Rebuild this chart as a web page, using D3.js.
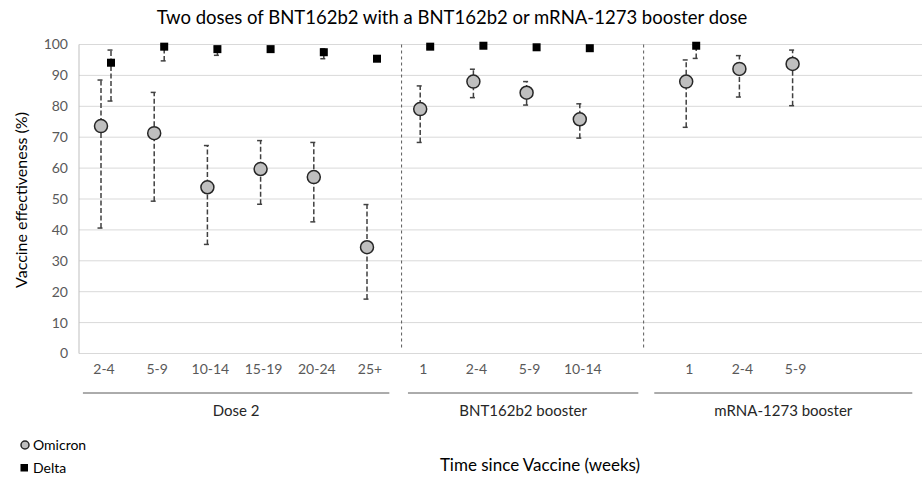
<!DOCTYPE html>
<html><head><meta charset="utf-8">
<script src="https://cdn.jsdelivr.net/npm/d3@7"></script>
<style>body{margin:0;background:#fff}svg{display:block}text{font-family:Lato,"Open Sans",sans-serif}</style>
</head><body><svg id="c" width="924" height="492"></svg>
<script>
// ---- data ----
const slots = [0,1,2,3,4,5,6,7,8,9,11,12,13];
const tickLabels = ["2-4","5-9","10-14","15-19","20-24","25+","1","2-4","5-9","10-14","1","2-4","5-9"];
const omicron    = [73.6,71.3,53.8,59.7,57.1,34.4,79.1,88.0,84.4,75.8,88.0,92.1,93.7];
const omicronLo  = [40.6,49.3,35.3,48.3,42.6,17.6,68.3,82.8,80.4,69.7,73.2,83.0,80.2];
const omicronHi  = [88.5,84.5,67.3,68.9,68.3,48.2,86.6,92.0,88.0,80.8,95.0,96.4,98.2];
const delta      = [94.1,99.3,98.5,98.5,97.5,95.4,99.3,99.6,99.1,98.8,99.6,null,null];
const deltaLo    = [81.7,94.7,96.5,97.8,95.4,94.9,98.8,99.2,98.6,98.2,95.5,null,null];
const deltaHi    = [98.2,99.7,99.2,99.0,98.6,95.9,99.6,99.8,99.4,99.2,99.8,null,null];
const groups = [{name:"Dose 2",from:-0.34,to:5.42},{name:"BNT162b2 booster",from:5.77,to:10.1},{name:"mRNA-1273 booster",from:10.4,to:15.25}];
const dividers = [5.65, 10.2];
const yTicks = [0,10,20,30,40,50,60,70,80,90,100];

const svg = d3.select("#c");
const x = d3.scaleLinear().domain([0,13]).range([101,792.6]);
const y = d3.scaleLinear().domain([0,100]).range([353.5,44.5]);
const xL = 79, xR = 922;

// gridlines
svg.append("g").selectAll("line").data(yTicks).join("line")
  .attr("x1",xL).attr("x2",xR).attr("y1",d=>y(d)).attr("y2",d=>y(d))
  .attr("stroke","#d9d9d9").attr("stroke-width",1);
// y axis line
svg.append("line").attr("x1",xL).attr("x2",xL).attr("y1",y(100)).attr("y2",y(0)).attr("stroke","#bfbfbf");
// y axis labels
const yAxis = d3.axisLeft(y).tickValues(yTicks).tickSize(0).tickPadding(11);
const ya = svg.append("g").attr("transform",`translate(${xL},0)`).call(yAxis);
ya.select(".domain").remove();
ya.selectAll("text").attr("font-size",14).attr("fill","#595959").style("font-family",'Lato,sans-serif');

// dividers
svg.append("g").selectAll("line").data(dividers).join("line")
  .attr("x1",d=>x(d)).attr("x2",d=>x(d)).attr("y1",y(100)).attr("y2",y(0)-6)
  .attr("stroke","#595959").attr("stroke-width",1).attr("stroke-dasharray","3,3");

// error bars
function errbars(vals,lo,hi,off){
  const g = svg.append("g").attr("stroke","#404040").attr("stroke-width",1.5).attr("stroke-dasharray","5,2.5").attr("fill","none");
  vals.forEach((v,i)=>{
    if(v==null) return;
    const cx = x(slots[i])+off;
    g.append("line").attr("x1",cx).attr("x2",cx).attr("y1",y(lo[i])).attr("y2",y(hi[i]));
    [lo[i],hi[i]].forEach(e=>{
      g.append("line").attr("x1",cx-3.5).attr("x2",cx+3.5).attr("y1",y(e)).attr("y2",y(e)).attr("stroke-dasharray",null);
    });
  });
}
errbars(omicron,omicronLo,omicronHi,0);
errbars(delta,deltaLo,deltaHi,10);

// omicron circles
svg.append("g").selectAll("circle").data(omicron.map((v,i)=>({v,i}))).join("circle")
  .attr("cx",d=>x(slots[d.i])).attr("cy",d=>y(d.v)).attr("r",6.5)
  .attr("fill","#bfbfbf").attr("stroke","#262626").attr("stroke-width",1.5);
// delta squares
svg.append("g").selectAll("rect").data(delta.map((v,i)=>({v,i})).filter(d=>d.v!=null)).join("rect")
  .attr("x",d=>x(slots[d.i])+10-4).attr("y",d=>y(d.v)-4).attr("width",8).attr("height",8).attr("fill","#000");

// x tick labels
svg.append("g").selectAll("text").data(tickLabels).join("text")
  .attr("x",(d,i)=>x(slots[i])+3).attr("y",374).attr("text-anchor","middle")
  .attr("font-size",14).attr("fill","#595959").text(d=>d);

// group lines + labels
groups.forEach(gr=>{
  svg.append("line").attr("x1",x(gr.from)).attr("x2",x(gr.to)).attr("y1",393).attr("y2",393).attr("stroke","#595959").attr("stroke-width",1);
  svg.append("text").attr("x",(x(gr.from)+x(gr.to))/2).attr("y",416).attr("text-anchor","middle")
    .attr("font-size",15).attr("fill","#262626").text(gr.name);
});

// title
svg.append("text").attr("x",452).attr("y",24).attr("text-anchor","middle").attr("font-size",18.5).attr("fill","#000")
  .text("Two doses of BNT162b2 with a BNT162b2 or mRNA-1273 booster dose");
// y title
svg.append("text").attr("transform","translate(27,200) rotate(-90)").attr("text-anchor","middle")
  .attr("font-size",16).attr("fill","#000").text("Vaccine effectiveness (%)");
// x title
svg.append("text").attr("x",540).attr("y",471).attr("text-anchor","middle").attr("font-size",17).attr("fill","#000")
  .text("Time since Vaccine (weeks)");

// legend
svg.append("circle").attr("cx",25).attr("cy",445).attr("r",4).attr("fill","#bfbfbf").attr("stroke","#262626").attr("stroke-width",1.5);
svg.append("text").attr("x",33).attr("y",450).attr("font-size",14).attr("fill","#000").text("Omicron");
svg.append("rect").attr("x",20.5).attr("y",464).attr("width",7.5).attr("height",7.5).attr("fill","#000");
svg.append("text").attr("x",33).attr("y",473).attr("font-size",14).attr("fill","#000").text("Delta");
</script></body></html>
